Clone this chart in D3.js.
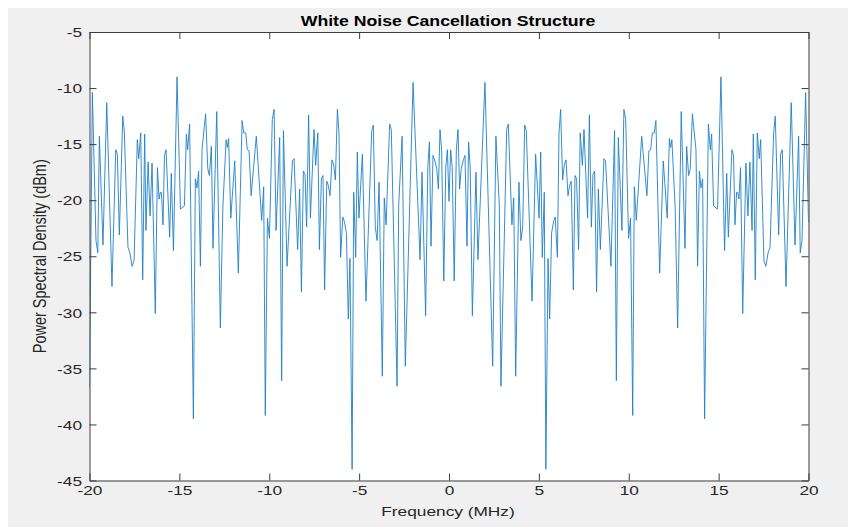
<!DOCTYPE html>
<html><head><meta charset="utf-8">
<script src="https://cdn.jsdelivr.net/npm/d3@7"></script>
<style>
body{margin:0;background:#fff}
svg{display:block}
text{font-family:"Liberation Sans",Arial,Helvetica,sans-serif;fill:#262626}
</style>
</head><body>
<svg id="c" width="855" height="527"></svg>
<script>
const chartTitle = "White Noise Cancellation Structure";
const xLabel = "Frequency (MHz)";
const yLabel = "Power Spectral Density (dBm)";
const xTicks = [-20,-15,-10,-5,0,5,10,15,20];
const yTicks = [-45,-40,-35,-30,-25,-20,-15,-10,-5];

const freq = [
-20.00,-19.84,-19.64,-19.54,-19.45,-19.25,-19.04,-18.75,-18.54,-18.45,
-18.34,-18.15,-18.06,-17.86,-17.75,-17.63,-17.52,-17.34,-17.26,-17.15,
-17.04,-16.93,-16.86,-16.74,-16.63,-16.52,-16.34,-16.22,-16.13,-16.06,
-16.00,-15.91,-15.83,-15.74,-15.54,-15.45,-15.33,-15.13,-14.94,-14.72,
-14.61,-14.54,-14.43,-14.22,-14.11,-14.02,-13.93,-13.83,-13.74,-13.54,
-13.42,-13.33,-13.22,-13.13,-12.92,-12.72,-12.58,-12.40,-12.33,-12.26,
-12.14,-11.92,-11.72,-11.51,-11.42,-11.31,-11.22,-11.12,-11.01,-10.72,
-10.42,-10.31,-10.22,-10.10,-9.99,-9.83,-9.73,-9.62,-9.42,-9.31,
-9.21,-9.01,-8.71,-8.62,-8.42,-8.31,-8.21,-8.10,-8.01,-7.92,
-7.81,-7.71,-7.51,-7.42,-7.30,-7.21,-7.10,-7.01,-6.92,-6.80,
-6.71,-6.62,-6.51,-6.41,-6.32,-6.21,-6.12,-6.03,-5.91,-5.82,
-5.71,-5.60,-5.51,-5.39,-5.30,-5.19,-5.10,-5.01,-4.82,-4.62,
-4.30,-4.21,-4.10,-4.00,-3.89,-3.71,-3.60,-3.50,-3.30,-3.21,
-2.89,-2.80,-2.61,-2.43,-2.00,-1.61,-1.50,-1.30,-1.18,-1.09,
-1.00,-0.89,-0.80,-0.68,-0.59,-0.50,-0.41,-0.29,-0.18,-0.09,
0.00,
0.09,0.18,0.29,0.41,0.50,0.59,0.68,0.80,0.89,1.00,
1.09,1.18,1.30,1.50,1.61,2.00,2.43,2.61,2.80,2.89,
3.21,3.30,3.50,3.60,3.71,3.89,4.00,4.10,4.21,4.30,
4.62,4.82,5.01,5.10,5.19,5.30,5.39,5.51,5.60,5.71,
5.82,5.91,6.03,6.12,6.21,6.32,6.41,6.51,6.62,6.71,
6.80,6.92,7.01,7.10,7.21,7.30,7.42,7.51,7.71,7.81,
7.92,8.01,8.10,8.21,8.31,8.42,8.62,8.71,9.01,9.21,
9.31,9.42,9.62,9.73,9.83,9.99,10.10,10.22,10.31,10.42,
10.72,11.01,11.12,11.22,11.31,11.42,11.51,11.72,11.92,12.14,
12.26,12.33,12.40,12.58,12.72,12.92,13.13,13.22,13.33,13.42,
13.54,13.74,13.83,13.93,14.02,14.11,14.22,14.43,14.54,14.61,
14.72,14.94,15.13,15.33,15.45,15.54,15.74,15.83,15.91,16.00,
16.06,16.13,16.22,16.34,16.52,16.63,16.74,16.86,16.93,17.04,
17.15,17.26,17.34,17.52,17.63,17.75,17.86,18.06,18.15,18.34,
18.45,18.54,18.75,19.04,19.25,19.45,19.54,19.64,19.84,
20.00
];

const psd = [
-36.7,-10.4,-23.6,-24.7,-14.3,-24.0,-11.3,-27.7,-15.5,-15.9,
-23.1,-12.5,-14.0,-24.2,-24.7,-25.9,-25.4,-14.6,-16.3,-14.0,
-27.1,-14.1,-22.7,-16.6,-21.4,-16.7,-30.1,-17.1,-19.9,-19.3,
-19.3,-22.2,-16.0,-15.5,-23.3,-17.6,-24.5,-9.0,-20.8,-20.5,
-14.1,-15.5,-13.2,-39.5,-18.1,-18.9,-17.4,-25.9,-15.5,-12.3,
-17.2,-17.8,-15.2,-24.3,-12.1,-31.4,-20.6,-14.6,-15.3,-14.5,
-21.6,-16.5,-26.5,-12.9,-14.0,-14.0,-15.5,-15.6,-19.6,-14.3,
-21.8,-18.8,-39.2,-21.6,-23.4,-12.8,-11.9,-22.7,-14.4,-36.1,
-13.8,-25.9,-16.5,-16.3,-24.4,-19.0,-28.2,-17.4,-17.7,-22.4,
-12.4,-21.6,-13.7,-16.9,-14.0,-24.4,-18.1,-17.8,-28.0,-18.3,
-18.7,-19.6,-16.4,-16.9,-18.2,-11.9,-14.0,-25.1,-21.5,-21.9,
-22.9,-30.6,-25.2,-44.0,-19.3,-25.1,-15.7,-21.6,-15.9,-29.0,
-13.8,-13.3,-22.4,-23.6,-18.4,-35.7,-19.8,-22.2,-13.2,-13.7,
-36.6,-20.5,-14.3,-34.8,-9.5,-25.3,-17.5,-30.3,-17.1,-14.8,
-24.1,-16.0,-16.4,-17.2,-19.0,-13.7,-15.5,-27.2,-17.1,-15.5,
-20.1,
-15.5,-17.1,-27.2,-15.5,-13.7,-19.0,-17.2,-16.4,-16.0,-24.1,
-14.8,-17.1,-30.3,-17.5,-25.3,-9.5,-34.8,-14.3,-20.5,-36.6,
-13.7,-13.2,-22.2,-19.8,-35.7,-18.4,-23.6,-22.4,-13.3,-13.8,
-29.0,-15.9,-21.6,-15.7,-25.1,-19.3,-44.0,-25.2,-30.6,-22.9,
-21.9,-21.5,-25.1,-14.0,-11.9,-18.2,-16.9,-16.4,-19.6,-18.7,
-18.3,-28.0,-17.8,-18.1,-24.4,-14.0,-16.9,-13.7,-21.6,-12.4,
-22.4,-17.7,-17.4,-28.2,-19.0,-24.4,-16.3,-16.5,-25.9,-13.8,
-36.1,-14.4,-22.7,-11.9,-12.8,-23.4,-21.6,-39.2,-18.8,-21.8,
-14.3,-19.6,-15.6,-15.5,-14.0,-14.0,-12.9,-26.5,-16.5,-21.6,
-14.5,-15.3,-14.6,-20.6,-31.4,-12.1,-24.3,-15.2,-17.8,-17.2,
-12.3,-15.5,-25.9,-17.4,-18.9,-18.1,-39.5,-13.2,-15.5,-14.1,
-20.5,-20.8,-9.0,-24.5,-17.6,-23.3,-15.5,-16.0,-22.2,-19.3,
-19.3,-19.9,-17.1,-30.1,-16.7,-21.4,-16.6,-22.7,-14.1,-27.1,
-14.0,-16.3,-14.6,-25.4,-25.9,-24.7,-24.2,-14.0,-12.5,-23.1,
-15.9,-15.5,-27.7,-11.3,-24.0,-14.3,-24.7,-23.6,-10.4,
-22.0
];

const svg = d3.select("#c");
const L = 89.5, R = 808.5, T = 32, B = 480.5;
const SX = 1.28;      // horizontal stretch of text seen in the reference
const FS = 13.5;
const x = d3.scaleLinear().domain([-20, 20]).range([L, R]);
const y = d3.scaleLinear().domain([-45, -5]).range([B, T]);
const fmt = d => String(d);

svg.append("rect").attr("x", 8).attr("y", 8).attr("width", 840).attr("height", 519).attr("fill", "#f0f0f0");
svg.append("rect").attr("x", L).attr("y", T).attr("width", R - L).attr("height", B - T).attr("fill", "#ffffff");

svg.append("defs").append("clipPath").attr("id", "clip")
  .append("rect").attr("x", L).attr("y", T).attr("width", R - L).attr("height", B - T);

const line = d3.line().x(i => x(freq[i])).y(i => y(psd[i]));
svg.append("path")
  .datum(d3.range(freq.length))
  .attr("clip-path", "url(#clip)")
  .attr("fill", "none")
  .attr("stroke", "#1f80c6")
  .attr("stroke-width", 0.9)
  .attr("stroke-linejoin", "round")
  .attr("d", line);

function styleAxis(g) {
  g.selectAll(".domain").attr("stroke", "#3c3c3c").attr("stroke-width", 1);
  g.selectAll(".tick line").attr("stroke", "#3c3c3c").attr("stroke-width", 1);
  g.attr("font-family", null).attr("font-size", null);
}

const TL = 7;
const gB = svg.append("g").attr("transform", `translate(0,${B})`)
  .call(d3.axisBottom(x).tickValues(xTicks).tickSizeInner(-TL).tickSizeOuter(0).tickPadding(4).tickFormat(fmt));
styleAxis(gB);
gB.selectAll(".tick text").attr("y", 4.5).attr("dy", "0.71em")
  .style("font-size", FS + "px").attr("transform", `scale(${SX},1)`);

const gT = svg.append("g").attr("transform", `translate(0,${T})`)
  .call(d3.axisTop(x).tickValues(xTicks).tickSizeInner(-TL).tickSizeOuter(0).tickFormat(() => ""));
styleAxis(gT);

const gL = svg.append("g").attr("transform", `translate(${L},0)`)
  .call(d3.axisLeft(y).tickValues(yTicks).tickSizeInner(-TL).tickSizeOuter(0).tickFormat(fmt));
styleAxis(gL);
gL.selectAll(".tick text").attr("x", -7.5 / SX).attr("dy", "0.35em")
  .style("font-size", FS + "px").attr("transform", `scale(${SX},1)`);

const gR = svg.append("g").attr("transform", `translate(${R},0)`)
  .call(d3.axisRight(y).tickValues(yTicks).tickSizeInner(-TL).tickSizeOuter(0).tickFormat(() => ""));
styleAxis(gR);

svg.append("text").attr("transform", `translate(448,26) scale(1.22,1)`)
  .attr("text-anchor", "middle").style("font-size", "14.5px").style("font-weight", "bold").style("fill", "#000")
  .text(chartTitle);

svg.append("text").attr("transform", `translate(448,516) scale(${SX},1)`)
  .attr("text-anchor", "middle").style("font-size", FS + "px")
  .text(xLabel);

svg.append("text").attr("transform", `translate(46,${(T + B) / 2}) scale(${SX},1) rotate(-90)`)
  .attr("text-anchor", "middle").style("font-size", "14.5px")
  .text(yLabel);
</script>
</body></html>
